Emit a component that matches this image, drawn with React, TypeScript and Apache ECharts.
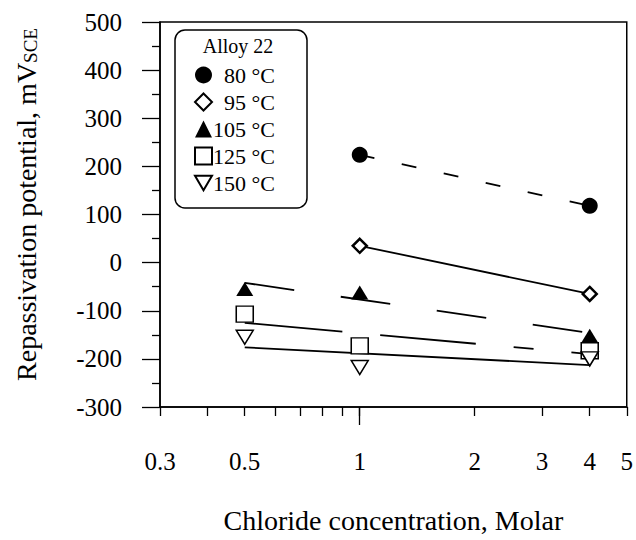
import React, { useEffect, useRef } from "react";
import * as echarts from "echarts";

// ---- data (concentration in Molar, potential in mV SCE) ----
const xTickValues = [0.3, 0.4, 0.5, 0.6, 0.7, 0.8, 0.9, 1, 2, 3, 4, 5];
const xLabelValues = [0.3, 0.5, 1, 2, 3, 4, 5];

const legendNames = ["80 °C", "95 °C", "105 °C", "125 °C", "150 °C"];

const conc80 = [1, 4];
const pot80 = [224, 118];
const conc95 = [1, 4];
const pot95 = [35, -65];
const conc105 = [0.5, 1, 4];
const pot105 = [-55, -62, -152];
const conc125 = [0.5, 1, 4];
const pot125 = [-107, -173, -183];
const conc150 = [0.5, 1, 4];
const pot150 = [-155, -218, -200];

// regression lines (end points)
const fit80X = [1, 4];
const fit80Y = [224, 118];
const fit95X = [1, 4];
const fit95Y = [35, -65];
const fit105X = [0.5, 4];
const fit105Y = [-42, -146];
const fit125X = [0.5, 4];
const fit125Y = [-125, -190];
const fit150X = [0.5, 4];
const fit150Y = [-176, -213];

const FONT = "Liberation Serif";
const lg = (v: number) => Math.log10(v);
const pts = (xs: number[], ys: number[]) => xs.map((x, i) => [lg(x), ys[i]]);

export default function App() {
  const ref = useRef<HTMLDivElement>(null);

  useEffect(() => {
    if (!ref.current) return;
    const chart = echarts.init(ref.current, null, { renderer: "svg" });

    const hollow = { color: "#fff", borderColor: "#000", borderWidth: 2, opacity: 1 };
    const solidBlack = { color: "#000", opacity: 1 };

    const fitLine = (name: string, xs: number[], ys: number[], type: any) => ({
      name,
      type: "line",
      data: pts(xs, ys),
      symbol: "none",
      silent: true,
      z: 1,
      lineStyle: { color: "#000", width: 1.8, type },
    });

    const option: any = {
      animation: false,
      backgroundColor: "#fff",
      textStyle: { fontFamily: FONT },
      grid: {
        left: 160,
        right: 8,
        top: 22,
        bottom: 133,
        show: true,
        borderColor: "#000",
        borderWidth: 1.5,
        backgroundColor: "transparent",
      },
      xAxis: [
        {
          type: "value",
          min: lg(0.3),
          max: lg(5),
          name: "Chloride concentration, Molar",
          nameLocation: "middle",
          nameGap: 99,
          nameTextStyle: { fontFamily: FONT, fontSize: 28, color: "#000" },
          axisLine: { show: true, onZero: false, lineStyle: { color: "#000", width: 1.5 } },
          axisTick: {
            show: true,
            inside: false,
            length: 9,
            lineStyle: { color: "#000", width: 1.3 },
            customValues: xTickValues.map(lg),
          },
          axisLabel: {
            show: true,
            margin: 42,
            fontFamily: FONT,
            fontSize: 25,
            color: "#000",
            customValues: xLabelValues.map(lg),
            formatter: (v: number) => String(parseFloat(Math.pow(10, v).toPrecision(2))),
          },
          splitLine: { show: false },
        },
        {
          type: "value",
          min: lg(0.3),
          max: lg(5),
          position: "bottom",
          axisLine: { show: false, onZero: false },
          axisTick: {
            show: true,
            inside: false,
            length: 18,
            lineStyle: { color: "#000", width: 1.3 },
            customValues: [lg(1)],
          },
          axisLabel: { show: false },
          splitLine: { show: false },
        },
      ],
      yAxis: {
        type: "value",
        min: -300,
        max: 500,
        interval: 100,
        name: "{a|Repassivation potential, mV}{b|SCE}",
        nameLocation: "middle",
        nameRotate: 90,
        nameGap: 120,
        nameTextStyle: {
          color: "#000",
          padding: [0, 0, 0, 20],
          rich: {
            a: { fontFamily: FONT, fontSize: 28, color: "#000", lineHeight: 34, verticalAlign: "bottom" },
            b: { fontFamily: FONT, fontSize: 19, color: "#000", lineHeight: 18, verticalAlign: "bottom" },
          },
        },
        axisLine: { show: true, onZero: false, lineStyle: { color: "#000", width: 1.5 } },
        axisTick: { show: true, inside: false, length: 18, lineStyle: { color: "#000", width: 1.3 } },
        minorTick: { show: true, splitNumber: 2, length: 8, lineStyle: { color: "#000", width: 1.3 } },
        axisLabel: { margin: 38, fontFamily: FONT, fontSize: 25, color: "#000" },
        splitLine: { show: false },
      },
      legend: {
        data: legendNames,
        orient: "vertical",
        left: 175,
        top: 30,
        padding: [34, 32, 14, 19],
        itemGap: 5,
        itemWidth: 17,
        itemHeight: 17,
        backgroundColor: "#fff",
        borderColor: "#000",
        borderWidth: 1.5,
        borderRadius: 10,
        selectedMode: false,
        formatter: (name: string) => `{t|${name}}`,
        textStyle: {
          rich: {
            t: { width: 58, align: "right", fontFamily: FONT, fontSize: 22, lineHeight: 22, color: "#000" },
          },
        },
      },
      graphic: [
        {
          type: "text",
          x: 238,
          y: 46,
          z: 100,
          style: {
            text: "Alloy 22",
            font: `20px "${FONT}"`,
            fill: "#000",
            textAlign: "center",
            textVerticalAlign: "middle",
          },
        },
      ],
      series: [
        fitLine("80 fit", fit80X, fit80Y, [15, 28]),
        fitLine("95 fit", fit95X, fit95Y, "solid"),
        fitLine("105 fit", fit105X, fit105Y, [50, 47]),
        fitLine("125 fit", fit125X, fit125Y, [98, 38, 96, 38, 20, 38]),
        fitLine("150 fit", fit150X, fit150Y, "solid"),
        {
          name: legendNames[0],
          type: "scatter",
          data: pts(conc80, pot80),
          symbol: "circle",
          symbolSize: 16,
          itemStyle: solidBlack,
          z: 3,
        },
        {
          name: legendNames[1],
          type: "scatter",
          data: pts(conc95, pot95),
          symbol: "diamond",
          symbolSize: 14,
          itemStyle: { ...hollow, borderWidth: 2.5 },
          z: 3,
        },
        {
          name: legendNames[2],
          type: "scatter",
          data: pts(conc105, pot105),
          symbol: "triangle",
          symbolSize: [17, 14],
          itemStyle: solidBlack,
          z: 3,
        },
        {
          name: legendNames[3],
          type: "scatter",
          data: pts(conc125, pot125),
          symbol: "rect",
          symbolSize: [17, 16],
          itemStyle: { ...hollow, borderWidth: 1.5 },
          z: 3,
        },
        {
          name: legendNames[4],
          type: "scatter",
          data: pts(conc150, pot150),
          symbol: "path://M0,0L20,0L10,17Z",
          symbolSize: [17, 14],
          itemStyle: { ...hollow, borderWidth: 1.5 },
          z: 3,
        },
      ],
    };

    chart.setOption(option);
    return () => chart.dispose();
  }, []);

  return (
    <div
      ref={ref}
      style={{ position: "fixed", left: 0, top: 0, width: 636, height: 540, background: "#fff" }}
    />
  );
}
